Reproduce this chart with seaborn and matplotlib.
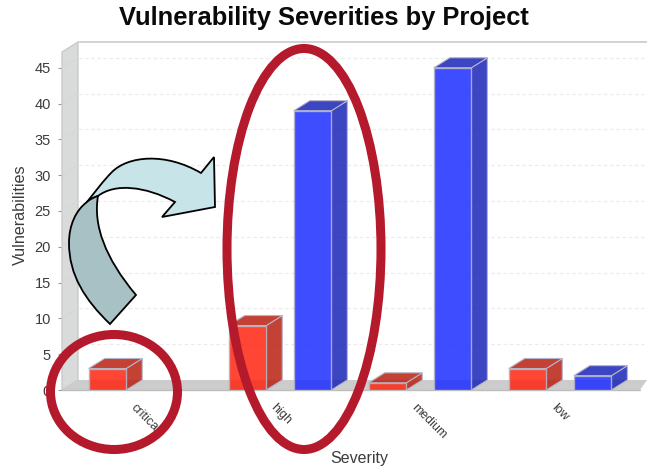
import numpy as np
import pandas as pd
import matplotlib
matplotlib.use("Agg")
import matplotlib.pyplot as plt
from matplotlib.patches import Ellipse, PathPatch, Polygon
from matplotlib.path import Path
from matplotlib.transforms import ScaledTranslation
import seaborn as sns

severities = ["critical", "high", "medium", "low"]
project_a = [3, 9, 1, 3]
project_b = [np.nan, 39, 45, 2]
y_ticks = [0, 5, 10, 15, 20, 25, 30, 35, 40, 45]

W, H = 647, 466
sns.set_theme(style="white")
plt.rcParams["font.family"] = ["Liberation Sans", "DejaVu Sans"]

df = pd.DataFrame({
    "Severity": severities * 2,
    "Vulnerabilities": project_a + project_b,
    "Project": ["A"] * 4 + ["B"] * 4,
})

fig = plt.figure(figsize=(W / 100, H / 100), dpi=100, facecolor="white")
left, right, top, bottom = 62, 647, 42, 390
ax = fig.add_axes([left / W, 1 - bottom / H, (right - left) / W, (bottom - top) / H])
ax.patch.set_alpha(0)

FRONT = {"A": (1.0, 0.14, 0.06), "B": (0.11, 0.18, 1.0)}
SHADE = {"A": (0.73, 0.12, 0.07), "B": (0.10, 0.14, 0.72)}
OPACITY = 0.85
EDGE = "#b4b4c4"

sns.barplot(data=df, x="Severity", y="Vulnerabilities", hue="Project",
            order=severities, hue_order=["A", "B"], palette=FRONT, saturation=1,
            width=0.93, gap=0.423, legend=False, ax=ax, zorder=5,
            alpha=OPACITY, edgecolor=EDGE, linewidth=1)
series_bars = list(zip(["A", "B"], ax.containers))

x_min, x_max = -0.557, 3.621
y_max = 48.6
ax.set_xlim(x_min, x_max)
ax.set_ylim(0, y_max)
sns.despine(ax=ax, left=True, bottom=True, top=True, right=True)

# Oblique depth of the pseudo-3D plot box, in data units
dx, dy = 16 / 140, 1.4

# Side wall and floor
ax.add_patch(Polygon([(x_min, 0), (x_min, y_max - dy), (x_min + dx, y_max), (x_min + dx, dy)],
                     closed=True, fc="#d9dbdb", ec="#c9cbcb", lw=1, zorder=1, clip_on=False))
ax.add_patch(Polygon([(x_min, 0), (x_min + dx, dy), (x_max, dy), (x_max - 7 / 140, 0)],
                     closed=True, fc="#cccccc", ec="none", zorder=2))
ax.plot([x_min + dx, x_max], [y_max, y_max], color="#d2d2d2", lw=1.4, zorder=1, clip_on=False)
ax.plot([x_min, x_max - 7 / 140], [0, 0], color="#bdbdbd", lw=1, zorder=3, clip_on=False)

# Dashed grid on the back wall, with its short slant across the side wall
for v in y_ticks[1:]:
    ax.plot([x_min + dx, x_max], [v + dy, v + dy], color="#ececec", lw=0.9,
            ls=(0, (3, 2)), zorder=1)
    ax.plot([x_min, x_min + dx], [v, v + dy], color="#d4d6d6", lw=0.5, zorder=1.5)

# Top and side faces derived from each drawn bar
for name, bars in series_bars:
    shade = SHADE[name] + (OPACITY,)
    for bar in bars:
        h = bar.get_height()
        if not np.isfinite(h) or h == 0:
            continue
        x0, w = bar.get_x(), bar.get_width()
        x1 = x0 + w
        ax.add_patch(Polygon([(x1, 0), (x1 + dx, dy), (x1 + dx, h + dy), (x1, h)],
                             closed=True, fc=shade, ec=EDGE, lw=0.8, zorder=4))
        ax.add_patch(Polygon([(x0, h), (x0 + dx, h + dy), (x1 + dx, h + dy), (x1, h)],
                             closed=True, fc=shade, ec=EDGE, lw=0.8, zorder=4))

# Axis text
text_col = "#3c3c3c"
ax.set_yticks(y_ticks)
ax.tick_params(axis="y", length=3, width=0.8, color="#999999", labelcolor=text_col,
               labelsize=10.5, pad=5, left=True)
ax.set_xticks(range(len(severities)))
ax.set_xticklabels(severities)
ax.tick_params(axis="x", length=0, pad=0)
shift = ScaledTranslation(-3 / 100, -12 / 100, fig.dpi_scale_trans)
for lab in ax.get_xticklabels():
    lab.set(rotation=-45, ha="left", va="top", rotation_mode="anchor",
            fontsize=9, color=text_col)
    lab.set_transform(lab.get_transform() + shift)
ax.set_xlabel("")
ax.set_ylabel("")

fig.text(324 / W, 1 - 18 / H, "Vulnerability Severities by Project", ha="center", va="center",
         fontsize=18.4, fontweight="bold", color="#0a0a0a")
fig.text(20 / W, 1 - 215 / H, "Vulnerabilities", rotation=90, ha="center", va="center",
         fontsize=11.6, color=text_col)
fig.text(359 / W, 1 - 458 / H, "Severity", ha="center", va="center", fontsize=11.5, color=text_col)

# Callouts placed over the whole figure, in pixel units
over = fig.add_axes([0, 0, 1, 1], zorder=10)
over.set_xlim(0, W)
over.set_ylim(H, 0)
over.axis("off")
RED = "#b5192c"
over.add_patch(Ellipse((114, 392), 127, 115, fc="none", ec=RED, lw=6.5))
over.add_patch(Ellipse((304, 249), 154, 401, fc="none", ec=RED, lw=6.5))

M, L, C, Z = Path.MOVETO, Path.LINETO, Path.CURVE4, Path.CLOSEPOLY
head = [((87, 202), M),
        ((95, 192), C), ((103, 181), C), ((112, 172), C),
        ((128, 156), C), ((165, 152), C), ((201, 173), C),
        ((214, 157), L), ((215, 207), L), ((162, 217), L), ((175, 202), L),
        ((145, 186), C), ((115, 183), C), ((98, 196), C),
        ((95, 197), C), ((90, 199), C), ((87, 202), C),
        ((87, 202), Z)]
tail = [((98, 196), M),
        ((93, 225), C), ((105, 258), C), ((136, 295), C),
        ((110, 324), L),
        ((85, 300), C), ((69, 275), C), ((69, 243), C),
        ((69, 225), C), ((76, 210), C), ((87, 202), C),
        ((90, 199), C), ((95, 197), C), ((98, 196), C),
        ((98, 196), Z)]
for shape, col in [(head, "#c7e5e8"), (tail, "#a8c1c4")]:
    verts, codes = zip(*shape)
    over.add_patch(PathPatch(Path(verts, codes), fc=col, ec="black", lw=1.3, joinstyle="miter"))

fig.savefig("out.png", dpi=100)
